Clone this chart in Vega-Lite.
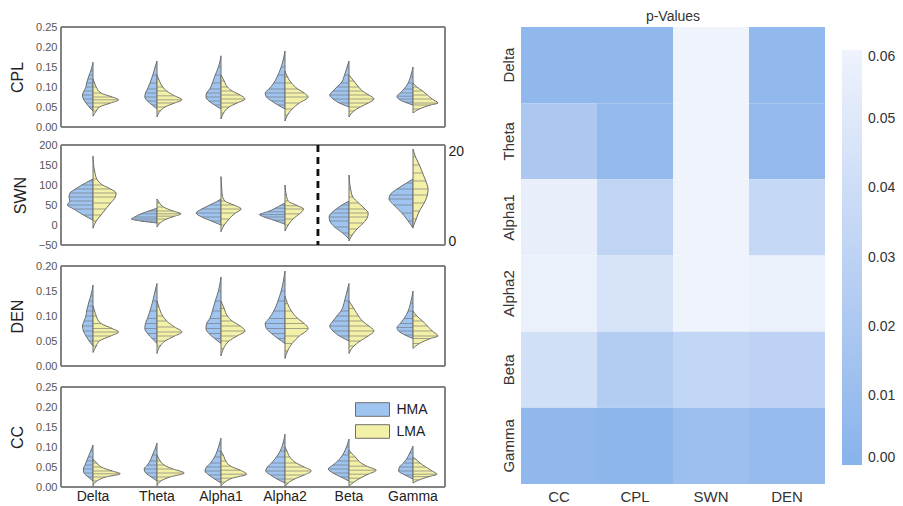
{
"$schema": "https://vega.github.io/schema/vega-lite/v6.json",
"padding": {"left": 9, "top": 4, "right": 5, "bottom": 3},
"config": {
 "view": {"stroke": null},
 "font": "Liberation Sans",
 "axis": {"grid": false, "ticks": false, "domain": false, "labelOverlap": false, "labelFont": "Liberation Sans", "labelFontSize": 11, "labelColor": "#555", "titleFont": "Liberation Sans", "titleFontSize": 16, "titleFontWeight": "normal", "titleColor": "#222", "labelPadding": 4, "titlePadding": 10},
 "legend": {"labelFont": "Liberation Sans"},
 "header": {"labelFont": "Liberation Sans"},
 "title": {"font": "Liberation Sans"}
},
"datasets": {
 "cpl": [
  {"b":"Delta","g":"HMA","v":0.04,"w":0},{"b":"Delta","g":"HMA","v":0.05,"w":0.12},{"b":"Delta","g":"HMA","v":0.06,"w":0.22},{"b":"Delta","g":"HMA","v":0.07,"w":0.3},{"b":"Delta","g":"HMA","v":0.08,"w":0.33},{"b":"Delta","g":"HMA","v":0.09,"w":0.28},{"b":"Delta","g":"HMA","v":0.1,"w":0.22},{"b":"Delta","g":"HMA","v":0.11,"w":0.2},{"b":"Delta","g":"HMA","v":0.12,"w":0.16},{"b":"Delta","g":"HMA","v":0.13,"w":0.12},{"b":"Delta","g":"HMA","v":0.14,"w":0.07},{"b":"Delta","g":"HMA","v":0.162,"w":0},
  {"b":"Delta","g":"LMA","v":0.027,"w":0},{"b":"Delta","g":"LMA","v":0.04,"w":0.1},{"b":"Delta","g":"LMA","v":0.05,"w":0.2},{"b":"Delta","g":"LMA","v":0.06,"w":0.55},{"b":"Delta","g":"LMA","v":0.068,"w":0.8},{"b":"Delta","g":"LMA","v":0.075,"w":0.6},{"b":"Delta","g":"LMA","v":0.085,"w":0.25},{"b":"Delta","g":"LMA","v":0.1,"w":0.1},{"b":"Delta","g":"LMA","v":0.11,"w":0.05},{"b":"Delta","g":"LMA","v":0.12,"w":0},
  {"b":"Theta","g":"HMA","v":0.045,"w":0},{"b":"Theta","g":"HMA","v":0.055,"w":0.15},{"b":"Theta","g":"HMA","v":0.065,"w":0.3},{"b":"Theta","g":"HMA","v":0.075,"w":0.38},{"b":"Theta","g":"HMA","v":0.085,"w":0.36},{"b":"Theta","g":"HMA","v":0.095,"w":0.3},{"b":"Theta","g":"HMA","v":0.11,"w":0.22},{"b":"Theta","g":"HMA","v":0.13,"w":0.13},{"b":"Theta","g":"HMA","v":0.15,"w":0.06},{"b":"Theta","g":"HMA","v":0.165,"w":0},
  {"b":"Theta","g":"LMA","v":0.025,"w":0},{"b":"Theta","g":"LMA","v":0.04,"w":0.1},{"b":"Theta","g":"LMA","v":0.05,"w":0.25},{"b":"Theta","g":"LMA","v":0.06,"w":0.55},{"b":"Theta","g":"LMA","v":0.068,"w":0.78},{"b":"Theta","g":"LMA","v":0.078,"w":0.55},{"b":"Theta","g":"LMA","v":0.09,"w":0.3},{"b":"Theta","g":"LMA","v":0.1,"w":0.18},{"b":"Theta","g":"LMA","v":0.12,"w":0.05},{"b":"Theta","g":"LMA","v":0.13,"w":0},
  {"b":"Alpha1","g":"HMA","v":0.045,"w":0},{"b":"Alpha1","g":"HMA","v":0.055,"w":0.2},{"b":"Alpha1","g":"HMA","v":0.065,"w":0.38},{"b":"Alpha1","g":"HMA","v":0.075,"w":0.47},{"b":"Alpha1","g":"HMA","v":0.085,"w":0.45},{"b":"Alpha1","g":"HMA","v":0.095,"w":0.35},{"b":"Alpha1","g":"HMA","v":0.11,"w":0.27},{"b":"Alpha1","g":"HMA","v":0.13,"w":0.18},{"b":"Alpha1","g":"HMA","v":0.15,"w":0.08},{"b":"Alpha1","g":"HMA","v":0.178,"w":0},
  {"b":"Alpha1","g":"LMA","v":0.02,"w":0},{"b":"Alpha1","g":"LMA","v":0.035,"w":0.08},{"b":"Alpha1","g":"LMA","v":0.05,"w":0.25},{"b":"Alpha1","g":"LMA","v":0.06,"w":0.5},{"b":"Alpha1","g":"LMA","v":0.07,"w":0.75},{"b":"Alpha1","g":"LMA","v":0.08,"w":0.6},{"b":"Alpha1","g":"LMA","v":0.09,"w":0.35},{"b":"Alpha1","g":"LMA","v":0.1,"w":0.2},{"b":"Alpha1","g":"LMA","v":0.115,"w":0.1},{"b":"Alpha1","g":"LMA","v":0.13,"w":0},
  {"b":"Alpha2","g":"HMA","v":0.045,"w":0},{"b":"Alpha2","g":"HMA","v":0.055,"w":0.22},{"b":"Alpha2","g":"HMA","v":0.065,"w":0.42},{"b":"Alpha2","g":"HMA","v":0.075,"w":0.58},{"b":"Alpha2","g":"HMA","v":0.085,"w":0.62},{"b":"Alpha2","g":"HMA","v":0.095,"w":0.5},{"b":"Alpha2","g":"HMA","v":0.11,"w":0.35},{"b":"Alpha2","g":"HMA","v":0.13,"w":0.22},{"b":"Alpha2","g":"HMA","v":0.15,"w":0.12},{"b":"Alpha2","g":"HMA","v":0.17,"w":0.05},{"b":"Alpha2","g":"HMA","v":0.19,"w":0},
  {"b":"Alpha2","g":"LMA","v":0.015,"w":0},{"b":"Alpha2","g":"LMA","v":0.03,"w":0.08},{"b":"Alpha2","g":"LMA","v":0.045,"w":0.22},{"b":"Alpha2","g":"LMA","v":0.06,"w":0.45},{"b":"Alpha2","g":"LMA","v":0.075,"w":0.72},{"b":"Alpha2","g":"LMA","v":0.085,"w":0.6},{"b":"Alpha2","g":"LMA","v":0.095,"w":0.4},{"b":"Alpha2","g":"LMA","v":0.11,"w":0.2},{"b":"Alpha2","g":"LMA","v":0.125,"w":0.08},{"b":"Alpha2","g":"LMA","v":0.14,"w":0},
  {"b":"Beta","g":"HMA","v":0.05,"w":0},{"b":"Beta","g":"HMA","v":0.06,"w":0.3},{"b":"Beta","g":"HMA","v":0.07,"w":0.5},{"b":"Beta","g":"HMA","v":0.08,"w":0.6},{"b":"Beta","g":"HMA","v":0.09,"w":0.5},{"b":"Beta","g":"HMA","v":0.1,"w":0.38},{"b":"Beta","g":"HMA","v":0.11,"w":0.25},{"b":"Beta","g":"HMA","v":0.13,"w":0.14},{"b":"Beta","g":"HMA","v":0.15,"w":0.06},{"b":"Beta","g":"HMA","v":0.165,"w":0},
  {"b":"Beta","g":"LMA","v":0.025,"w":0},{"b":"Beta","g":"LMA","v":0.04,"w":0.15},{"b":"Beta","g":"LMA","v":0.05,"w":0.35},{"b":"Beta","g":"LMA","v":0.06,"w":0.6},{"b":"Beta","g":"LMA","v":0.07,"w":0.78},{"b":"Beta","g":"LMA","v":0.08,"w":0.62},{"b":"Beta","g":"LMA","v":0.09,"w":0.42},{"b":"Beta","g":"LMA","v":0.1,"w":0.3},{"b":"Beta","g":"LMA","v":0.115,"w":0.15},{"b":"Beta","g":"LMA","v":0.13,"w":0},
  {"b":"Gamma","g":"HMA","v":0.055,"w":0},{"b":"Gamma","g":"HMA","v":0.062,"w":0.25},{"b":"Gamma","g":"HMA","v":0.07,"w":0.45},{"b":"Gamma","g":"HMA","v":0.077,"w":0.5},{"b":"Gamma","g":"HMA","v":0.085,"w":0.4},{"b":"Gamma","g":"HMA","v":0.095,"w":0.28},{"b":"Gamma","g":"HMA","v":0.11,"w":0.15},{"b":"Gamma","g":"HMA","v":0.125,"w":0.08},{"b":"Gamma","g":"HMA","v":0.15,"w":0},
  {"b":"Gamma","g":"LMA","v":0.035,"w":0},{"b":"Gamma","g":"LMA","v":0.045,"w":0.2},{"b":"Gamma","g":"LMA","v":0.055,"w":0.55},{"b":"Gamma","g":"LMA","v":0.06,"w":0.78},{"b":"Gamma","g":"LMA","v":0.07,"w":0.6},{"b":"Gamma","g":"LMA","v":0.08,"w":0.45},{"b":"Gamma","g":"LMA","v":0.09,"w":0.3},{"b":"Gamma","g":"LMA","v":0.1,"w":0.12},{"b":"Gamma","g":"LMA","v":0.11,"w":0}
 ],
 "swn": [
  {"b":"Delta","g":"HMA","v":12,"w":0},{"b":"Delta","g":"HMA","v":25,"w":0.3},{"b":"Delta","g":"HMA","v":40,"w":0.6},{"b":"Delta","g":"HMA","v":50,"w":0.8},{"b":"Delta","g":"HMA","v":60,"w":0.72},{"b":"Delta","g":"HMA","v":70,"w":0.75},{"b":"Delta","g":"HMA","v":80,"w":0.72},{"b":"Delta","g":"HMA","v":90,"w":0.55},{"b":"Delta","g":"HMA","v":100,"w":0.35},{"b":"Delta","g":"HMA","v":110,"w":0.12},{"b":"Delta","g":"HMA","v":115,"w":0},
  {"b":"Delta","g":"LMA","v":-8,"w":0},{"b":"Delta","g":"LMA","v":10,"w":0.1},{"b":"Delta","g":"LMA","v":25,"w":0.25},{"b":"Delta","g":"LMA","v":40,"w":0.4},{"b":"Delta","g":"LMA","v":55,"w":0.55},{"b":"Delta","g":"LMA","v":70,"w":0.7},{"b":"Delta","g":"LMA","v":80,"w":0.72},{"b":"Delta","g":"LMA","v":90,"w":0.55},{"b":"Delta","g":"LMA","v":100,"w":0.3},{"b":"Delta","g":"LMA","v":115,"w":0.12},{"b":"Delta","g":"LMA","v":135,"w":0.05},{"b":"Delta","g":"LMA","v":172,"w":0},
  {"b":"Theta","g":"HMA","v":5,"w":0},{"b":"Theta","g":"HMA","v":10,"w":0.5},{"b":"Theta","g":"HMA","v":15,"w":0.8},{"b":"Theta","g":"HMA","v":20,"w":0.7},{"b":"Theta","g":"HMA","v":28,"w":0.5},{"b":"Theta","g":"HMA","v":35,"w":0.25},{"b":"Theta","g":"HMA","v":42,"w":0},
  {"b":"Theta","g":"LMA","v":-5,"w":0},{"b":"Theta","g":"LMA","v":5,"w":0.1},{"b":"Theta","g":"LMA","v":15,"w":0.3},{"b":"Theta","g":"LMA","v":22,"w":0.55},{"b":"Theta","g":"LMA","v":28,"w":0.75},{"b":"Theta","g":"LMA","v":35,"w":0.5},{"b":"Theta","g":"LMA","v":45,"w":0.2},{"b":"Theta","g":"LMA","v":55,"w":0.08},{"b":"Theta","g":"LMA","v":65,"w":0},
  {"b":"Alpha1","g":"HMA","v":0,"w":0},{"b":"Alpha1","g":"HMA","v":10,"w":0.3},{"b":"Alpha1","g":"HMA","v":20,"w":0.6},{"b":"Alpha1","g":"HMA","v":30,"w":0.78},{"b":"Alpha1","g":"HMA","v":40,"w":0.6},{"b":"Alpha1","g":"HMA","v":50,"w":0.35},{"b":"Alpha1","g":"HMA","v":60,"w":0.1},{"b":"Alpha1","g":"HMA","v":65,"w":0},
  {"b":"Alpha1","g":"LMA","v":-17,"w":0},{"b":"Alpha1","g":"LMA","v":0,"w":0.1},{"b":"Alpha1","g":"LMA","v":15,"w":0.25},{"b":"Alpha1","g":"LMA","v":30,"w":0.45},{"b":"Alpha1","g":"LMA","v":40,"w":0.63},{"b":"Alpha1","g":"LMA","v":50,"w":0.4},{"b":"Alpha1","g":"LMA","v":60,"w":0.12},{"b":"Alpha1","g":"LMA","v":75,"w":0.04},{"b":"Alpha1","g":"LMA","v":95,"w":0.02},{"b":"Alpha1","g":"LMA","v":121,"w":0},
  {"b":"Alpha2","g":"HMA","v":2,"w":0},{"b":"Alpha2","g":"HMA","v":12,"w":0.35},{"b":"Alpha2","g":"HMA","v":20,"w":0.65},{"b":"Alpha2","g":"HMA","v":26,"w":0.8},{"b":"Alpha2","g":"HMA","v":33,"w":0.55},{"b":"Alpha2","g":"HMA","v":42,"w":0.3},{"b":"Alpha2","g":"HMA","v":50,"w":0.12},{"b":"Alpha2","g":"HMA","v":55,"w":0},
  {"b":"Alpha2","g":"LMA","v":-15,"w":0},{"b":"Alpha2","g":"LMA","v":0,"w":0.1},{"b":"Alpha2","g":"LMA","v":15,"w":0.25},{"b":"Alpha2","g":"LMA","v":28,"w":0.45},{"b":"Alpha2","g":"LMA","v":40,"w":0.58},{"b":"Alpha2","g":"LMA","v":48,"w":0.4},{"b":"Alpha2","g":"LMA","v":60,"w":0.1},{"b":"Alpha2","g":"LMA","v":75,"w":0.04},{"b":"Alpha2","g":"LMA","v":100,"w":0},
  {"b":"Beta","g":"HMA","v":-35,"w":0},{"b":"Beta","g":"HMA","v":-20,"w":0.2},{"b":"Beta","g":"HMA","v":-5,"w":0.45},{"b":"Beta","g":"HMA","v":10,"w":0.6},{"b":"Beta","g":"HMA","v":20,"w":0.62},{"b":"Beta","g":"HMA","v":30,"w":0.55},{"b":"Beta","g":"HMA","v":40,"w":0.4},{"b":"Beta","g":"HMA","v":50,"w":0.22},{"b":"Beta","g":"HMA","v":60,"w":0},
  {"b":"Beta","g":"LMA","v":-40,"w":0},{"b":"Beta","g":"LMA","v":-25,"w":0.1},{"b":"Beta","g":"LMA","v":-10,"w":0.25},{"b":"Beta","g":"LMA","v":5,"w":0.45},{"b":"Beta","g":"LMA","v":20,"w":0.58},{"b":"Beta","g":"LMA","v":30,"w":0.6},{"b":"Beta","g":"LMA","v":40,"w":0.5},{"b":"Beta","g":"LMA","v":55,"w":0.3},{"b":"Beta","g":"LMA","v":70,"w":0.12},{"b":"Beta","g":"LMA","v":90,"w":0.05},{"b":"Beta","g":"LMA","v":125,"w":0},
  {"b":"Gamma","g":"HMA","v":-8,"w":0},{"b":"Gamma","g":"HMA","v":10,"w":0.15},{"b":"Gamma","g":"HMA","v":30,"w":0.35},{"b":"Gamma","g":"HMA","v":50,"w":0.6},{"b":"Gamma","g":"HMA","v":65,"w":0.75},{"b":"Gamma","g":"HMA","v":75,"w":0.72},{"b":"Gamma","g":"HMA","v":90,"w":0.5},{"b":"Gamma","g":"HMA","v":105,"w":0.2},{"b":"Gamma","g":"HMA","v":115,"w":0},
  {"b":"Gamma","g":"LMA","v":-5,"w":0},{"b":"Gamma","g":"LMA","v":15,"w":0.1},{"b":"Gamma","g":"LMA","v":35,"w":0.2},{"b":"Gamma","g":"LMA","v":55,"w":0.35},{"b":"Gamma","g":"LMA","v":75,"w":0.45},{"b":"Gamma","g":"LMA","v":90,"w":0.47},{"b":"Gamma","g":"LMA","v":110,"w":0.4},{"b":"Gamma","g":"LMA","v":130,"w":0.3},{"b":"Gamma","g":"LMA","v":150,"w":0.2},{"b":"Gamma","g":"LMA","v":170,"w":0.08},{"b":"Gamma","g":"LMA","v":190,"w":0}
 ],
 "cc": [
  {"b":"Delta","g":"HMA","v":0.015,"w":0},{"b":"Delta","g":"HMA","v":0.025,"w":0.15},{"b":"Delta","g":"HMA","v":0.035,"w":0.28},{"b":"Delta","g":"HMA","v":0.045,"w":0.3},{"b":"Delta","g":"HMA","v":0.055,"w":0.25},{"b":"Delta","g":"HMA","v":0.065,"w":0.2},{"b":"Delta","g":"HMA","v":0.075,"w":0.15},{"b":"Delta","g":"HMA","v":0.09,"w":0.07},{"b":"Delta","g":"HMA","v":0.105,"w":0},
  {"b":"Delta","g":"LMA","v":0.003,"w":0},{"b":"Delta","g":"LMA","v":0.015,"w":0.12},{"b":"Delta","g":"LMA","v":0.025,"w":0.4},{"b":"Delta","g":"LMA","v":0.033,"w":0.85},{"b":"Delta","g":"LMA","v":0.04,"w":0.6},{"b":"Delta","g":"LMA","v":0.05,"w":0.25},{"b":"Delta","g":"LMA","v":0.06,"w":0.12},{"b":"Delta","g":"LMA","v":0.065,"w":0.05},{"b":"Delta","g":"LMA","v":0.07,"w":0},
  {"b":"Theta","g":"HMA","v":0.015,"w":0},{"b":"Theta","g":"HMA","v":0.025,"w":0.18},{"b":"Theta","g":"HMA","v":0.035,"w":0.35},{"b":"Theta","g":"HMA","v":0.045,"w":0.4},{"b":"Theta","g":"HMA","v":0.055,"w":0.3},{"b":"Theta","g":"HMA","v":0.065,"w":0.22},{"b":"Theta","g":"HMA","v":0.08,"w":0.14},{"b":"Theta","g":"HMA","v":0.095,"w":0.06},{"b":"Theta","g":"HMA","v":0.11,"w":0},
  {"b":"Theta","g":"LMA","v":0.003,"w":0},{"b":"Theta","g":"LMA","v":0.015,"w":0.12},{"b":"Theta","g":"LMA","v":0.025,"w":0.4},{"b":"Theta","g":"LMA","v":0.035,"w":0.85},{"b":"Theta","g":"LMA","v":0.045,"w":0.5},{"b":"Theta","g":"LMA","v":0.055,"w":0.22},{"b":"Theta","g":"LMA","v":0.065,"w":0.1},{"b":"Theta","g":"LMA","v":0.075,"w":0.03},{"b":"Theta","g":"LMA","v":0.08,"w":0},
  {"b":"Alpha1","g":"HMA","v":0.01,"w":0},{"b":"Alpha1","g":"HMA","v":0.02,"w":0.2},{"b":"Alpha1","g":"HMA","v":0.03,"w":0.38},{"b":"Alpha1","g":"HMA","v":0.04,"w":0.5},{"b":"Alpha1","g":"HMA","v":0.05,"w":0.45},{"b":"Alpha1","g":"HMA","v":0.06,"w":0.33},{"b":"Alpha1","g":"HMA","v":0.075,"w":0.2},{"b":"Alpha1","g":"HMA","v":0.09,"w":0.12},{"b":"Alpha1","g":"HMA","v":0.105,"w":0.06},{"b":"Alpha1","g":"HMA","v":0.122,"w":0},
  {"b":"Alpha1","g":"LMA","v":0.002,"w":0},{"b":"Alpha1","g":"LMA","v":0.012,"w":0.12},{"b":"Alpha1","g":"LMA","v":0.022,"w":0.35},{"b":"Alpha1","g":"LMA","v":0.032,"w":0.8},{"b":"Alpha1","g":"LMA","v":0.042,"w":0.6},{"b":"Alpha1","g":"LMA","v":0.052,"w":0.3},{"b":"Alpha1","g":"LMA","v":0.065,"w":0.15},{"b":"Alpha1","g":"LMA","v":0.08,"w":0.07},{"b":"Alpha1","g":"LMA","v":0.09,"w":0},
  {"b":"Alpha2","g":"HMA","v":0.01,"w":0},{"b":"Alpha2","g":"HMA","v":0.02,"w":0.25},{"b":"Alpha2","g":"HMA","v":0.03,"w":0.45},{"b":"Alpha2","g":"HMA","v":0.04,"w":0.6},{"b":"Alpha2","g":"HMA","v":0.05,"w":0.55},{"b":"Alpha2","g":"HMA","v":0.06,"w":0.42},{"b":"Alpha2","g":"HMA","v":0.075,"w":0.27},{"b":"Alpha2","g":"HMA","v":0.09,"w":0.15},{"b":"Alpha2","g":"HMA","v":0.11,"w":0.06},{"b":"Alpha2","g":"HMA","v":0.132,"w":0},
  {"b":"Alpha2","g":"LMA","v":0.0,"w":0},{"b":"Alpha2","g":"LMA","v":0.01,"w":0.1},{"b":"Alpha2","g":"LMA","v":0.02,"w":0.3},{"b":"Alpha2","g":"LMA","v":0.03,"w":0.6},{"b":"Alpha2","g":"LMA","v":0.04,"w":0.82},{"b":"Alpha2","g":"LMA","v":0.05,"w":0.6},{"b":"Alpha2","g":"LMA","v":0.06,"w":0.35},{"b":"Alpha2","g":"LMA","v":0.075,"w":0.15},{"b":"Alpha2","g":"LMA","v":0.09,"w":0.06},{"b":"Alpha2","g":"LMA","v":0.1,"w":0},
  {"b":"Beta","g":"HMA","v":0.015,"w":0},{"b":"Beta","g":"HMA","v":0.025,"w":0.25},{"b":"Beta","g":"HMA","v":0.035,"w":0.5},{"b":"Beta","g":"HMA","v":0.045,"w":0.65},{"b":"Beta","g":"HMA","v":0.055,"w":0.5},{"b":"Beta","g":"HMA","v":0.065,"w":0.35},{"b":"Beta","g":"HMA","v":0.08,"w":0.2},{"b":"Beta","g":"HMA","v":0.1,"w":0.08},{"b":"Beta","g":"HMA","v":0.12,"w":0},
  {"b":"Beta","g":"LMA","v":0.002,"w":0},{"b":"Beta","g":"LMA","v":0.012,"w":0.15},{"b":"Beta","g":"LMA","v":0.022,"w":0.35},{"b":"Beta","g":"LMA","v":0.032,"w":0.6},{"b":"Beta","g":"LMA","v":0.042,"w":0.85},{"b":"Beta","g":"LMA","v":0.052,"w":0.55},{"b":"Beta","g":"LMA","v":0.065,"w":0.3},{"b":"Beta","g":"LMA","v":0.075,"w":0.2},{"b":"Beta","g":"LMA","v":0.085,"w":0.07},{"b":"Beta","g":"LMA","v":0.092,"w":0},
  {"b":"Gamma","g":"HMA","v":0.02,"w":0},{"b":"Gamma","g":"HMA","v":0.03,"w":0.25},{"b":"Gamma","g":"HMA","v":0.04,"w":0.45},{"b":"Gamma","g":"HMA","v":0.05,"w":0.42},{"b":"Gamma","g":"HMA","v":0.06,"w":0.3},{"b":"Gamma","g":"HMA","v":0.07,"w":0.2},{"b":"Gamma","g":"HMA","v":0.085,"w":0.1},{"b":"Gamma","g":"HMA","v":0.102,"w":0},
  {"b":"Gamma","g":"LMA","v":0.01,"w":0},{"b":"Gamma","g":"LMA","v":0.018,"w":0.2},{"b":"Gamma","g":"LMA","v":0.026,"w":0.5},{"b":"Gamma","g":"LMA","v":0.032,"w":0.75},{"b":"Gamma","g":"LMA","v":0.04,"w":0.6},{"b":"Gamma","g":"LMA","v":0.05,"w":0.4},{"b":"Gamma","g":"LMA","v":0.06,"w":0.22},{"b":"Gamma","g":"LMA","v":0.07,"w":0.08},{"b":"Gamma","g":"LMA","v":0.075,"w":0}
 ],
 "pv": [
  {"r":"Delta","c":"CC","p":0.005},{"r":"Delta","c":"CPL","p":0.005},{"r":"Delta","c":"SWN","p":0.06},{"r":"Delta","c":"DEN","p":0.006},
  {"r":"Theta","c":"CC","p":0.02},{"r":"Theta","c":"CPL","p":0.007},{"r":"Theta","c":"SWN","p":0.06},{"r":"Theta","c":"DEN","p":0.007},
  {"r":"Alpha1","c":"CC","p":0.056},{"r":"Alpha1","c":"CPL","p":0.032},{"r":"Alpha1","c":"SWN","p":0.06},{"r":"Alpha1","c":"DEN","p":0.035},
  {"r":"Alpha2","c":"CC","p":0.058},{"r":"Alpha2","c":"CPL","p":0.045},{"r":"Alpha2","c":"SWN","p":0.06},{"r":"Alpha2","c":"DEN","p":0.058},
  {"r":"Beta","c":"CC","p":0.042},{"r":"Beta","c":"CPL","p":0.024},{"r":"Beta","c":"SWN","p":0.033},{"r":"Beta","c":"DEN","p":0.03},
  {"r":"Gamma","c":"CC","p":0.005},{"r":"Gamma","c":"CPL","p":0.003},{"r":"Gamma","c":"SWN","p":0.012},{"r":"Gamma","c":"DEN","p":0.008}
 ]
},
"hconcat": [
 {
  "title": {"text": " ", "fontSize": 13},
  "spacing": 10,
  "vconcat": [
  {"spacing": 7, "vconcat": [
   {
    "data": {"name": "cpl"},
    "facet": {"column": {"field": "b", "type": "nominal", "sort": ["Delta","Theta","Alpha1","Alpha2","Beta","Gamma"], "header": {"labels": false, "title": null}}},
    "spacing": 0, "bounds": "flush",
    "spec": {
     "width": 64, "height": 100,
     "layer": [
      {"transform": [{"filter": "datum.g=='HMA'"}], "layer": [
        {"mark": {"type": "area", "orient": "horizontal", "interpolate": "monotone", "stroke": "#6e6e6e", "strokeWidth": 1},
         "encoding": {"y": {"field": "v", "type": "quantitative", "scale": {"domain": [0, 0.25], "nice": false, "zero": false}, "axis": {"title": "CPL", "values": [0, 0.05, 0.1, 0.15, 0.2, 0.25], "tickCount": 10, "format": ".2f", "labelOverlap": false}},
          "x": {"field": "w", "type": "quantitative", "stack": null, "scale": {"domain": [-1, 1], "reverse": true}, "axis": null}, "x2": {"datum": 0},
          "fill": {"field": "g", "type": "nominal", "scale": {"domain": ["HMA", "LMA"], "range": ["#9fc4f0", "#f3f0a8"]}, "legend": {"orient": "none", "legendX": 302.5, "legendY": 373.5, "title": null, "symbolType": "M-2,-0.8H2V0.8H-2Z", "symbolSize": 289, "symbolStrokeColor": "#999", "symbolStrokeWidth": 1, "symbolOpacity": 1, "labelFontSize": 14, "labelColor": "#222", "rowPadding": 4, "labelOffset": 15, "padding": 0}}}},
        {"mark": {"type": "rule", "stroke": "#6e6e6e", "strokeWidth": 0.8, "opacity": 0.75},
         "encoding": {"y": {"field": "v", "type": "quantitative"}, "x": {"field": "w", "type": "quantitative"}, "x2": {"datum": 0}}}
      ]},
      {"transform": [{"filter": "datum.g=='LMA'"}], "layer": [
        {"mark": {"type": "area", "orient": "horizontal", "interpolate": "monotone", "stroke": "#6e6e6e", "strokeWidth": 1},
         "encoding": {"y": {"field": "v", "type": "quantitative"},
          "x": {"field": "w", "type": "quantitative", "stack": null, "scale": {"domain": [-1, 1]}, "axis": null}, "x2": {"datum": 0},
          "fill": {"field": "g", "type": "nominal"}}},
        {"mark": {"type": "rule", "stroke": "#6e6e6e", "strokeWidth": 0.8, "opacity": 0.75},
         "encoding": {"y": {"field": "v", "type": "quantitative"}, "x": {"field": "w", "type": "quantitative"}, "x2": {"datum": 0}}}
      ]},
      {"transform": [{"filter": "datum.g=='HMA' && datum.w==0"}], "layer": [
        {"mark": {"type": "rule", "stroke": "#7a7a7a", "strokeWidth": 1.5}, "encoding": {"y": {"datum": 0.25}}},
        {"mark": {"type": "rule", "stroke": "#7a7a7a", "strokeWidth": 1.5}, "encoding": {"y": {"datum": 0}}},
        {"transform": [{"filter": "datum.b=='Delta'"}], "mark": {"type": "rule", "stroke": "#7a7a7a", "strokeWidth": 1.5}, "encoding": {"x": {"datum": -1, "type": "quantitative", "scale": {"domain": [-1, 1]}, "axis": null}}},
        {"transform": [{"filter": "datum.b=='Gamma'"}], "mark": {"type": "rule", "stroke": "#7a7a7a", "strokeWidth": 1.5}, "encoding": {"x": {"datum": 1, "type": "quantitative"}}}
      ]}
     ],
     "resolve": {"scale": {"x": "independent"}}
    }
   },
   {
    "data": {"name": "swn"},
    "facet": {"column": {"field": "b", "type": "nominal", "sort": ["Delta","Theta","Alpha1","Alpha2","Beta","Gamma"], "header": {"labels": false, "title": null}}},
    "spacing": 0, "bounds": "flush",
    "spec": {
     "width": 64, "height": 100,
     "layer": [
      {"layer": [
       {"transform": [{"filter": "datum.g=='HMA'"}], "layer": [
         {"mark": {"type": "area", "orient": "horizontal", "interpolate": "monotone", "stroke": "#6e6e6e", "strokeWidth": 1},
          "encoding": {"y": {"field": "v", "type": "quantitative", "scale": {"domain": [-50, 200], "nice": false, "zero": false}, "axis": {"title": "SWN", "values": [-50, 0, 50, 100, 150, 200], "tickCount": 10, "labelOverlap": false}},
           "x": {"field": "w", "type": "quantitative", "stack": null, "scale": {"domain": [-1, 1], "reverse": true}, "axis": null}, "x2": {"datum": 0},
           "fill": {"field": "g", "type": "nominal"}}},
         {"mark": {"type": "rule", "stroke": "#6e6e6e", "strokeWidth": 0.8, "opacity": 0.75},
          "encoding": {"y": {"field": "v", "type": "quantitative"}, "x": {"field": "w", "type": "quantitative"}, "x2": {"datum": 0}}}
       ]},
       {"transform": [{"filter": "datum.g=='LMA'"}], "layer": [
         {"mark": {"type": "area", "orient": "horizontal", "interpolate": "monotone", "stroke": "#6e6e6e", "strokeWidth": 1},
          "encoding": {"y": {"field": "v", "type": "quantitative"},
           "x": {"field": "w", "type": "quantitative", "stack": null, "scale": {"domain": [-1, 1]}, "axis": null}, "x2": {"datum": 0},
           "fill": {"field": "g", "type": "nominal"}}},
         {"mark": {"type": "rule", "stroke": "#6e6e6e", "strokeWidth": 0.8, "opacity": 0.75},
          "encoding": {"y": {"field": "v", "type": "quantitative"}, "x": {"field": "w", "type": "quantitative"}, "x2": {"datum": 0}}}
       ]},
       {"transform": [{"filter": "datum.g=='HMA' && datum.w==0"}], "layer": [
         {"mark": {"type": "rule", "stroke": "#7a7a7a", "strokeWidth": 1.5}, "encoding": {"y": {"datum": 200}}},
         {"mark": {"type": "rule", "stroke": "#7a7a7a", "strokeWidth": 1.5}, "encoding": {"y": {"datum": -50}}},
         {"transform": [{"filter": "datum.b=='Delta'"}], "mark": {"type": "rule", "stroke": "#7a7a7a", "strokeWidth": 1.5}, "encoding": {"x": {"datum": -1, "type": "quantitative", "scale": {"domain": [-1, 1]}, "axis": null}}},
         {"transform": [{"filter": "datum.b=='Gamma'"}], "mark": {"type": "rule", "stroke": "#7a7a7a", "strokeWidth": 1.5}, "encoding": {"x": {"datum": 1, "type": "quantitative"}}},
         {"transform": [{"filter": "datum.b=='Beta'"}], "mark": {"type": "rule", "stroke": "#111", "strokeWidth": 2.5, "strokeDash": [7, 5]}, "encoding": {"x": {"datum": -0.97, "type": "quantitative"}}}
       ]}
      ], "resolve": {"scale": {"x": "independent"}}},
      {"transform": [{"filter": "datum.g=='HMA' && datum.w==0 && datum.b=='Gamma'"}],
       "mark": {"type": "rule", "opacity": 0},
       "encoding": {"y": {"datum": 0, "type": "quantitative", "axis": {"orient": "right", "values": [-40, 184], "tickCount": 10, "labelExpr": "datum.value < 0 ? '0' : '20'", "title": null, "labelFontSize": 14, "labelColor": "#222", "labelPadding": 3, "labelOverlap": false}}}}
     ],
     "resolve": {"axis": {"y": "independent"}}
    }
   }
  ]},
  {"spacing": 10, "vconcat": [
   {
    "data": {"name": "cpl"},
    "facet": {"column": {"field": "b", "type": "nominal", "sort": ["Delta","Theta","Alpha1","Alpha2","Beta","Gamma"], "header": {"labels": false, "title": null}}},
    "spacing": 0, "bounds": "flush",
    "spec": {
     "width": 64, "height": 100,
     "layer": [
      {"transform": [{"filter": "datum.g=='HMA'"}], "layer": [
        {"mark": {"type": "area", "orient": "horizontal", "interpolate": "monotone", "stroke": "#6e6e6e", "strokeWidth": 1},
         "encoding": {"y": {"field": "v", "type": "quantitative", "scale": {"domain": [0, 0.2], "nice": false, "zero": false}, "axis": {"title": "DEN", "values": [0, 0.05, 0.1, 0.15, 0.2], "tickCount": 10, "format": ".2f", "labelOverlap": false}},
          "x": {"field": "w", "type": "quantitative", "stack": null, "scale": {"domain": [-1, 1], "reverse": true}, "axis": null}, "x2": {"datum": 0},
          "fill": {"field": "g", "type": "nominal"}}},
        {"mark": {"type": "rule", "stroke": "#6e6e6e", "strokeWidth": 0.8, "opacity": 0.75},
         "encoding": {"y": {"field": "v", "type": "quantitative"}, "x": {"field": "w", "type": "quantitative"}, "x2": {"datum": 0}}}
      ]},
      {"transform": [{"filter": "datum.g=='LMA'"}], "layer": [
        {"mark": {"type": "area", "orient": "horizontal", "interpolate": "monotone", "stroke": "#6e6e6e", "strokeWidth": 1},
         "encoding": {"y": {"field": "v", "type": "quantitative"},
          "x": {"field": "w", "type": "quantitative", "stack": null, "scale": {"domain": [-1, 1]}, "axis": null}, "x2": {"datum": 0},
          "fill": {"field": "g", "type": "nominal"}}},
        {"mark": {"type": "rule", "stroke": "#6e6e6e", "strokeWidth": 0.8, "opacity": 0.75},
         "encoding": {"y": {"field": "v", "type": "quantitative"}, "x": {"field": "w", "type": "quantitative"}, "x2": {"datum": 0}}}
      ]},
      {"transform": [{"filter": "datum.g=='HMA' && datum.w==0"}], "layer": [
        {"mark": {"type": "rule", "stroke": "#7a7a7a", "strokeWidth": 1.5}, "encoding": {"y": {"datum": 0.2}}},
        {"mark": {"type": "rule", "stroke": "#7a7a7a", "strokeWidth": 1.5}, "encoding": {"y": {"datum": 0}}},
        {"transform": [{"filter": "datum.b=='Delta'"}], "mark": {"type": "rule", "stroke": "#7a7a7a", "strokeWidth": 1.5}, "encoding": {"x": {"datum": -1, "type": "quantitative", "scale": {"domain": [-1, 1]}, "axis": null}}},
        {"transform": [{"filter": "datum.b=='Gamma'"}], "mark": {"type": "rule", "stroke": "#7a7a7a", "strokeWidth": 1.5}, "encoding": {"x": {"datum": 1, "type": "quantitative"}}}
      ]}
     ],
     "resolve": {"scale": {"x": "independent"}}
    }
   },
   {
    "data": {"name": "cc"},
    "facet": {"column": {"field": "b", "type": "nominal", "sort": ["Delta","Theta","Alpha1","Alpha2","Beta","Gamma"], "header": {"title": null, "labelOrient": "bottom", "labelFontSize": 14, "labelColor": "#222", "labelPadding": 3}}},
    "spacing": 0, "bounds": "flush",
    "spec": {
     "width": 64, "height": 100,
     "layer": [
      {"transform": [{"filter": "datum.g=='HMA'"}], "layer": [
        {"mark": {"type": "area", "orient": "horizontal", "interpolate": "monotone", "stroke": "#6e6e6e", "strokeWidth": 1},
         "encoding": {"y": {"field": "v", "type": "quantitative", "scale": {"domain": [0, 0.25], "nice": false, "zero": false}, "axis": {"title": "CC", "values": [0, 0.05, 0.1, 0.15, 0.2, 0.25], "tickCount": 10, "format": ".2f", "labelOverlap": false}},
          "x": {"field": "w", "type": "quantitative", "stack": null, "scale": {"domain": [-1, 1], "reverse": true}, "axis": null}, "x2": {"datum": 0},
          "fill": {"field": "g", "type": "nominal"}}},
        {"mark": {"type": "rule", "stroke": "#6e6e6e", "strokeWidth": 0.8, "opacity": 0.75},
         "encoding": {"y": {"field": "v", "type": "quantitative"}, "x": {"field": "w", "type": "quantitative"}, "x2": {"datum": 0}}}
      ]},
      {"transform": [{"filter": "datum.g=='LMA'"}], "layer": [
        {"mark": {"type": "area", "orient": "horizontal", "interpolate": "monotone", "stroke": "#6e6e6e", "strokeWidth": 1},
         "encoding": {"y": {"field": "v", "type": "quantitative"},
          "x": {"field": "w", "type": "quantitative", "stack": null, "scale": {"domain": [-1, 1]}, "axis": null}, "x2": {"datum": 0},
          "fill": {"field": "g", "type": "nominal"}}},
        {"mark": {"type": "rule", "stroke": "#6e6e6e", "strokeWidth": 0.8, "opacity": 0.75},
         "encoding": {"y": {"field": "v", "type": "quantitative"}, "x": {"field": "w", "type": "quantitative"}, "x2": {"datum": 0}}}
      ]},
      {"transform": [{"filter": "datum.g=='HMA' && datum.w==0"}], "layer": [
        {"mark": {"type": "rule", "stroke": "#7a7a7a", "strokeWidth": 1.5}, "encoding": {"y": {"datum": 0.25}}},
        {"mark": {"type": "rule", "stroke": "#7a7a7a", "strokeWidth": 1.5}, "encoding": {"y": {"datum": 0}}},
        {"transform": [{"filter": "datum.b=='Delta'"}], "mark": {"type": "rule", "stroke": "#7a7a7a", "strokeWidth": 1.5}, "encoding": {"x": {"datum": -1, "type": "quantitative", "scale": {"domain": [-1, 1]}, "axis": null}}},
        {"transform": [{"filter": "datum.b=='Gamma'"}], "mark": {"type": "rule", "stroke": "#7a7a7a", "strokeWidth": 1.5}, "encoding": {"x": {"datum": 1, "type": "quantitative"}}}
      ]}
     ],
     "resolve": {"scale": {"x": "independent"}}
    }
   }
  ]}
  ]
 },
 {
  "data": {"name": "pv"},
  "width": 304, "height": 457,
  "title": {"text": "p-Values", "fontSize": 14, "fontWeight": "normal", "color": "#333", "offset": 3},
  "mark": {"type": "rect"},
  "encoding": {
   "x": {"field": "c", "type": "nominal", "sort": ["CC", "CPL", "SWN", "DEN"], "axis": {"title": null, "labelAngle": 0, "labelFontSize": 15, "labelColor": "#333", "labelPadding": 5}},
   "y": {"field": "r", "type": "nominal", "sort": ["Delta","Theta","Alpha1","Alpha2","Beta","Gamma"], "axis": {"title": null, "labelAngle": -90, "labelAlign": "center", "labelBaseline": "bottom", "labelFontSize": 15, "labelColor": "#333", "labelPadding": 5}},
   "color": {"field": "p", "type": "quantitative", "scale": {"domain": [0, 0.06], "range": ["#87b3eb", "#eef3fc"], "clamp": true},
    "legend": {"orient": "none", "legendX": 781, "legendY": 23, "title": null, "direction": "vertical", "gradientLength": 415, "gradientThickness": 20, "gradientStrokeWidth": 0, "values": [0, 0.01, 0.02, 0.03, 0.04, 0.05, 0.06], "format": ".2f", "labelFontSize": 14, "labelColor": "#333", "labelOffset": 6}}
  }
 }
],
"spacing": 36
}
